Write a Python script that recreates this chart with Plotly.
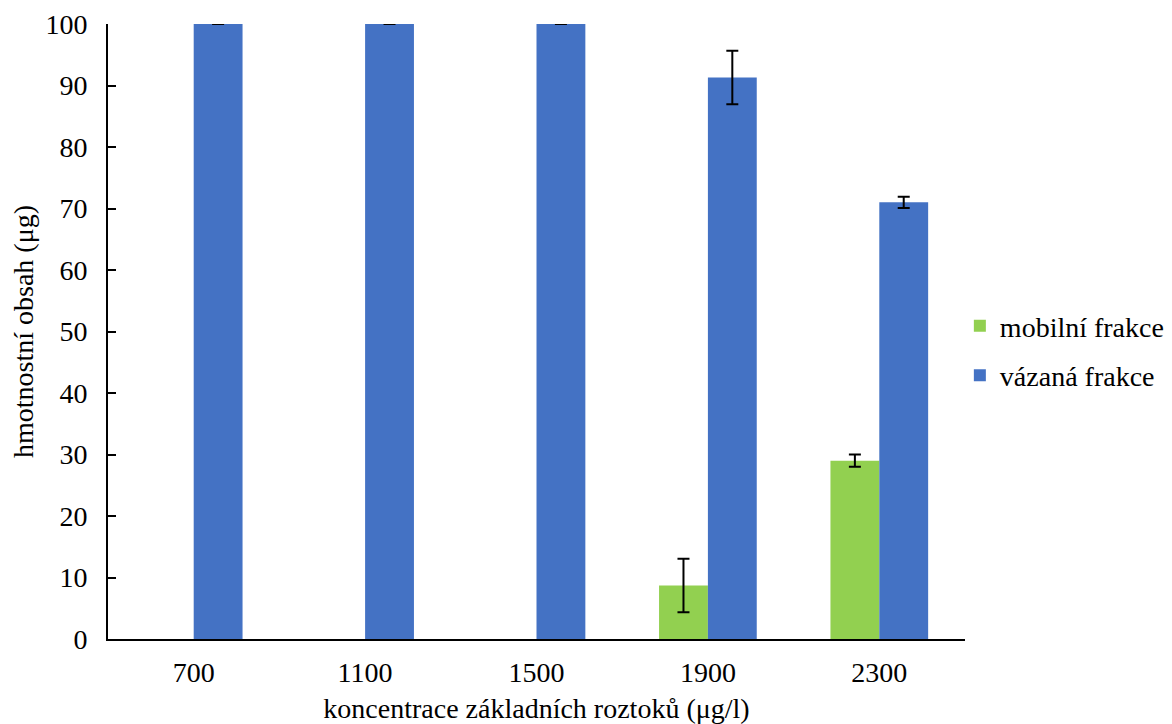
import plotly.graph_objects as go

categories = ["700", "1100", "1500", "1900", "2300"]
mobilni = [None, None, None, 8.7, 29.0]
mobilni_err = [0, 0, 0, 4.35, 1.0]
vazana = [100, 100, 100, 91.3, 71.0]
vazana_err = [0, 0, 0, 4.35, 0.9]
y_ticks = [0, 10, 20, 30, 40, 50, 60, 70, 80, 90, 100]

font = "Liberation Serif"
fs = 28

fig = go.Figure()
fig.add_trace(go.Bar(
    x=categories, y=mobilni, name="mobilní frakce", legendgroup="a",
    marker=dict(color="#92D050", line=dict(width=0)),
    error_y=dict(type="data", array=mobilni_err, visible=True,
                 color="black", thickness=2, width=6),
))
fig.add_trace(go.Bar(
    x=categories, y=vazana, name="vázaná frakce", legendgroup="b",
    marker=dict(color="#4472C4", line=dict(width=0)),
    error_y=dict(type="data", array=vazana_err, visible=True,
                 color="black", thickness=2, width=6),
))

fig.update_layout(
    width=1164, height=716,
    paper_bgcolor="white", plot_bgcolor="white",
    margin=dict(l=100, r=207, t=16, b=85, autoexpand=False),
    barmode="group", bargap=0.43, bargroupgap=0,
    font=dict(family=font, size=fs, color="black"),
    legend=dict(x=0.994, y=0.469, xanchor="left", yanchor="middle",
                font=dict(family=font, size=fs), tracegroupgap=10,
                itemwidth=30),
    xaxis=dict(
        showline=True, linecolor="black", linewidth=2,
        ticks="", showgrid=False, automargin=False, ticklabelstandoff=7,
        title=dict(text="koncentrace základních roztoků (μg/l)", standoff=17,
                   font=dict(family=font, size=fs)),
        tickfont=dict(family=font, size=fs),
    ),
    yaxis=dict(
        range=[0, 100], tickvals=y_ticks, automargin=False,
        showline=True, linecolor="black", linewidth=2,
        ticks="inside", ticklen=8, tickcolor="black", tickwidth=2,
        ticklabelstandoff=13,
        showgrid=False, zeroline=False,
        title=dict(text="hmotnostní obsah (μg)", standoff=6,
                   font=dict(family=font, size=fs)),
        tickfont=dict(family=font, size=fs),
    ),
)

fig.write_html("out.html")
